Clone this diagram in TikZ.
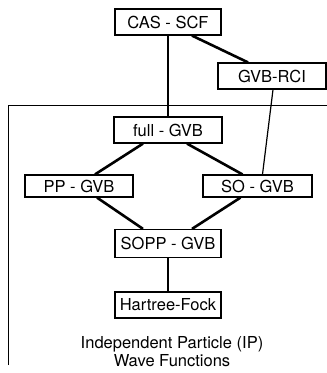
\documentclass[tikz,border=0pt]{standalone}
\usepackage{fontspec}
\setmainfont{TeX Gyre Heros}
\usepackage{tikz}

\begin{document}
\begin{tikzpicture} [x=1pt, y=-1pt,
        every node/.style={font=\fontsize{16.5}{18}\selectfont, inner sep=0pt},
        box/.style={draw, line width=1.2pt, minimum height=26pt},
        thin link/.style={line width=1.2pt},
        thick link/.style={line width=2.6pt}]
            \useasboundingbox (0,0) rectangle (327,373);

            % IP region
            \draw[line width=1pt] (8,365) |- (327,105);

            \node[box, minimum width=106pt] (cas)  at (168, 22)    {CAS - SCF};
            \node[box, minimum width=108pt] (rci)  at (272, 76)    {GVB-RCI};
            \node[box, minimum width=108pt] (full) at (168, 130)   {full - GVB};
            \node[box, minimum width=108pt, minimum height=22pt] (pp) at (79, 186)  {PP - GVB};
            \node[box, minimum width=109pt, minimum height=22pt] (so) at (257.5, 186) {SO - GVB};
            \node[box, minimum width=106pt, minimum height=28pt] (sopp) at (168, 243.5) {SOPP - GVB};
            \node[box, minimum width=106pt] (hf)   at (168, 305)   {Hartree-Fock};
            \node[align=center] (ip) at (172, 352) {Independent Particle (IP)\\Wave Functions};

            \draw[thin link] (cas) -- (full);
            \draw[thick link] ([xshift=24]cas.south) -- ([xshift=-24]rci.north);
            \draw[thin link] ([xshift=1]rci.south) -- ([xshift=5]so.north);
            \draw[thick link] ([xshift=-25]full.south) -- ([xshift=16]pp.north);
            \draw[thick link] ([xshift=19]full.south) -- ([xshift=-15]so.north);
            \draw[thick link] ([xshift=18]pp.south) -- ([xshift=-25]sopp.north);
            \draw[thick link] ([xshift=-17]so.south) -- ([xshift=24]sopp.north);
            \draw[thin link] (sopp) -- (hf);
        \end{tikzpicture}
\end{document}
